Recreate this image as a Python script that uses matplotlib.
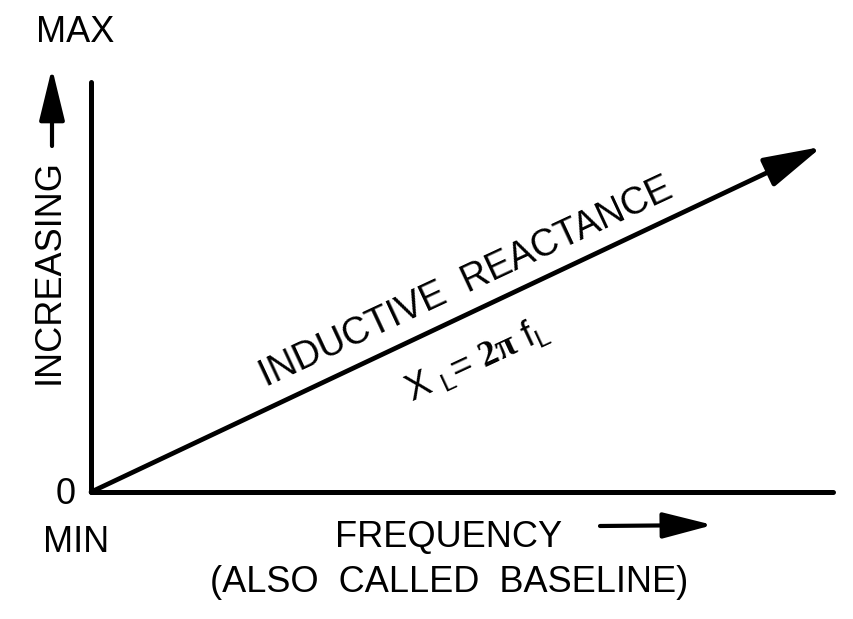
import matplotlib
matplotlib.use('Agg')
import matplotlib.pyplot as plt

plt.rcParams['font.family'] = ['Liberation Sans', 'DejaVu Sans']
plt.rcParams['mathtext.fontset'] = 'custom'
plt.rcParams['mathtext.rm'] = 'Liberation Sans'
plt.rcParams['mathtext.sf'] = 'Liberation Sans'
plt.rcParams['mathtext.it'] = 'Liberation Sans:italic'
plt.rcParams['mathtext.bf'] = 'Liberation Serif:bold'

# chart data (normalised: axis runs 0..1 both ways)
frequency = [0.0, 0.985]
reactance = [0.0, 0.842]
y_labels = ['0', 'MIN', 'MAX']
x_label = 'FREQUENCY'
x_note = '(ALSO  CALLED  BASELINE)'
y_label = 'INCREASING'
curve_label = 'INDUCTIVE  REACTANCE'
formula = r'X $_{\mathsf{L}}$= $\mathbf{2\pi}$ f$_{\mathsf{L}}$'

W, H = 854, 619


def px(x, y):
    # pixel position (from top-left) -> figure fraction
    return x / W, 1 - y / H


fig = plt.figure(figsize=(W / 100, H / 100), dpi=100)
fig.patch.set_facecolor('white')

ax = fig.add_axes([91 / W, (H - 492) / H, (833 - 91) / W, (492 - 82) / H])
ax.set_xlim(0, 1)
ax.set_ylim(0, 1)
ax.set_facecolor('none')
for side in ['top', 'right']:
    ax.spines[side].set_visible(False)
for side in ['left', 'bottom']:
    ax.spines[side].set_linewidth(3.6)
    ax.spines[side].set_color('black')
    ax.spines[side].set_capstyle('round')
ax.set_xticks([])
ax.set_yticks([])

# reactance line
ax.annotate('', xy=(frequency[1], reactance[1]), xytext=(frequency[0], reactance[0]),
            arrowprops=dict(arrowstyle='-|>,head_length=3.6,head_width=0.95',
                            mutation_scale=10, lw=3.4, color='black',
                            shrinkA=0, shrinkB=0))

fs = 26

# y axis labels
fig.text(*px(75, 33), y_labels[2], fontsize=fs, ha='center', va='center')
fig.text(*px(66, 494), y_labels[0], fontsize=fs, ha='center', va='center')
fig.text(*px(76, 542), y_labels[1], fontsize=fs, ha='center', va='center')
fig.text(*px(49, 271), y_label, fontsize=fs, ha='center', va='center', rotation=90)

# up arrow next to INCREASING
fig.add_artist(matplotlib.patches.FancyArrowPatch(
    px(52, 146), px(52, 68), transform=fig.transFigure,
    arrowstyle='-|>,head_length=3.2,head_width=0.78', mutation_scale=10,
    lw=3.0, color='black', shrinkA=0, shrinkB=0))

# x axis labels
fig.text(*px(449, 538), x_label, fontsize=fs, ha='center', va='center')
fig.text(*px(449, 582), x_note, fontsize=fs, ha='center', va='center')
fig.add_artist(matplotlib.patches.FancyArrowPatch(
    px(600, 526), px(713, 525), transform=fig.transFigure,
    arrowstyle='-|>,head_length=3.1,head_width=0.8', mutation_scale=10,
    lw=3.0, color='black', shrinkA=0, shrinkB=0))

# labels along the line
fig.text(*px(466, 283), curve_label, fontsize=27, ha='center', va='center',
         rotation=25, rotation_mode='anchor')
fig.text(*px(477, 360), formula, fontsize=fs, ha='center', va='center',
         rotation=25, rotation_mode='anchor')

fig.savefig('out.png', dpi=100, facecolor='white')
